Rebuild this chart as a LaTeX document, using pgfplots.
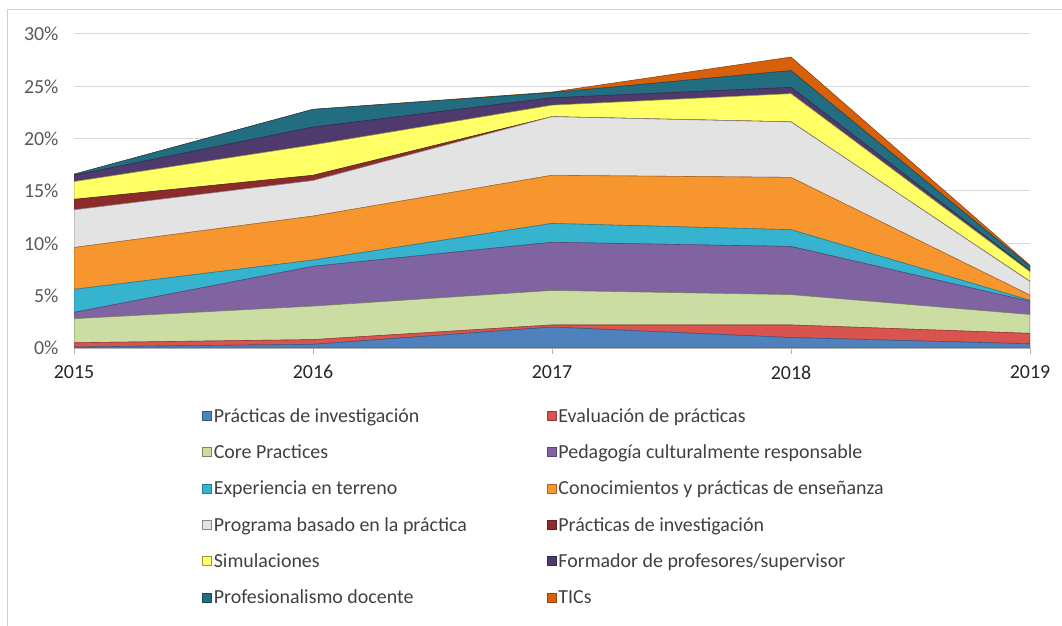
\documentclass[border=0pt]{standalone}
\usepackage{fontspec}
\setmainfont{Carlito}
\usepackage{pgfplots}
\usepackage{pgfplotstable}
\pgfplotsset{compat=1.18}

\definecolor{c1}{HTML}{4F81BD}
\definecolor{c2}{HTML}{D9534F}
\definecolor{c3}{HTML}{CCDDA4}
\definecolor{c4}{HTML}{8064A2}
\definecolor{c5}{HTML}{35B3CF}
\definecolor{c6}{HTML}{F7962F}
\definecolor{c7}{HTML}{E3E3E3}
\definecolor{c8}{HTML}{8B2C2A}
\definecolor{c9}{HTML}{FFFF66}
\definecolor{c10}{HTML}{4F3A6E}
\definecolor{c11}{HTML}{236D80}
\definecolor{c12}{HTML}{D9600A}
\definecolor{txt}{HTML}{404040}
\definecolor{tick}{HTML}{595959}

\pgfplotstableread{
year a b c d e f g h i j k l
2015 0.1 0.4 2.3 0.6 2.2 4.0 3.6 1.0 1.7 0.6 0.1 0.0
2016 0.35 0.45 3.2 3.8 0.6 4.2 3.4 0.5 2.9 1.7 1.7 0.0
2017 2.0 0.2 3.3 4.6 1.8 4.6 5.6 0.0 1.1 0.7 0.5 0.05
2018 1.0 1.2 2.9 4.6 1.6 5.0 5.3 0.0 2.7 0.6 1.6 1.3
2019 0.4 1.0 1.8 1.25 0.1 0.5 1.3 0.0 0.95 0.1 0.4 0.1
}\data

\begin{document}
\begin{tikzpicture}
\useasboundingbox (0,0) rectangle (1062bp,626bp);
\draw[color=black!18, line width=1bp] (7.5bp,-5bp) -- (7.5bp,616bp) -- (1070bp,616bp);
\begin{axis}[
  at={(74bp,278bp)}, anchor=south west,
  scale only axis, width=956bp, height=314bp,
  xmin=2015, xmax=2019, ymin=0, ymax=30,
  stack plots=y,
  axis lines*=left,
  y axis line style={draw=none},
  x axis line style={draw=black!30, line width=1bp},
  xtick={2015,2016,2017,2018,2019},
  ytick={0,5,10,15,20,25,30},
  yticklabel={\pgfmathprintnumber{\tick}\%},
  x tick label style={/pgf/number format/1000 sep={}, color=black!85, yshift=-8bp},
  y tick label style={color=tick, xshift=-6bp},
  /pgf/number format/assume math mode=true,
  tick label style={font=\fontsize{20}{24}\selectfont},
  ytick style={draw=none},
  xtick style={draw=black!30, line width=1bp},
  tick align=outside, major tick length=6bp,
  ymajorgrids, grid style={draw=black!15, line width=1bp},
  legend columns=2,
  legend style={at={(0.1308,-0.185)}, anchor=north west, draw=none, fill=none,
    font=\fontsize{20}{24}\selectfont, text=txt,
    nodes={inner xsep=2bp, inner ysep=0bp, anchor=west},
    /tikz/every odd column/.append style={column sep=0bp},
    row sep=21bp},
  legend cell align=left,
  legend image code/.code={\fill[#1] (0bp,-4.5bp) rectangle (9bp,4.5bp);},
]
\addplot[fill=c1, draw=c1!70!black, line width=0.6bp] table[x=year,y=a]{\data} \closedcycle;
\addplot[fill=c2, draw=c2!70!black, line width=0.6bp] table[x=year,y=b]{\data} \closedcycle;
\addplot[fill=c3, draw=c3!60!black, line width=0.6bp] table[x=year,y=c]{\data} \closedcycle;
\addplot[fill=c4, draw=c4!70!black, line width=0.6bp] table[x=year,y=d]{\data} \closedcycle;
\addplot[fill=c5, draw=c5!70!black, line width=0.6bp] table[x=year,y=e]{\data} \closedcycle;
\addplot[fill=c6, draw=c6!70!black, line width=0.6bp] table[x=year,y=f]{\data} \closedcycle;
\addplot[fill=c7, draw=c7!60!black, line width=0.6bp] table[x=year,y=g]{\data} \closedcycle;
\addplot[fill=c8, draw=c8!70!black, line width=0.6bp] table[x=year,y=h]{\data} \closedcycle;
\addplot[fill=c9, draw=c9!60!black, line width=0.6bp] table[x=year,y=i]{\data} \closedcycle;
\addplot[fill=c10, draw=c10!70!black, line width=0.6bp] table[x=year,y=j]{\data} \closedcycle;
\addplot[fill=c11, draw=c11!70!black, line width=0.6bp] table[x=year,y=k]{\data} \closedcycle;
\addplot[fill=c12, draw=c12!70!black, line width=0.6bp] table[x=year,y=l]{\data} \closedcycle;
\legend{\makebox[331bp][l]{Prácticas de investigación}, Evaluación de prácticas,
  \makebox[331bp][l]{Core Practices}, Pedagogía culturalmente responsable,
  \makebox[331bp][l]{Experiencia en terreno}, Conocimientos y prácticas de enseñanza,
  \makebox[331bp][l]{Programa basado en la práctica}, Prácticas de investigación,
  \makebox[331bp][l]{Simulaciones}, Formador de profesores/supervisor,
  \makebox[331bp][l]{Profesionalismo docente}, TICs}
\end{axis}
\end{tikzpicture}
\end{document}
